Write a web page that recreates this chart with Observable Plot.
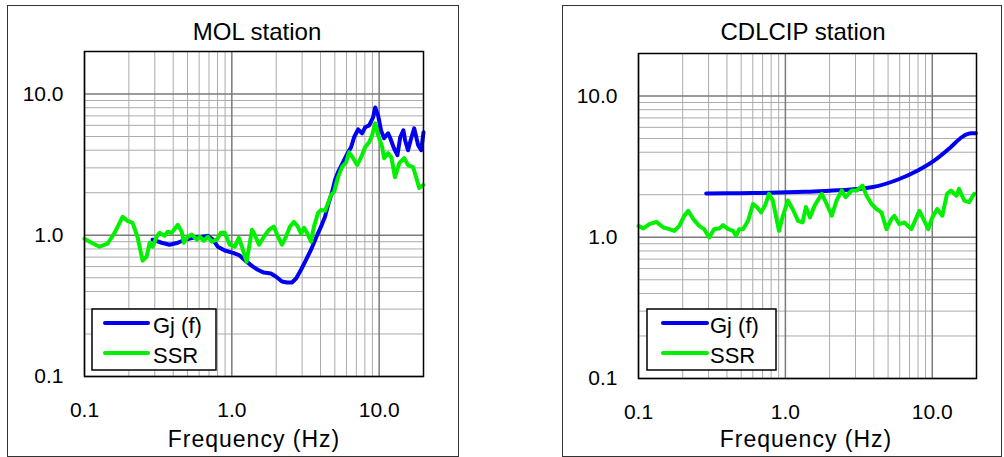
<!DOCTYPE html>
<html>
<head>
<meta charset="utf-8">
<script src="https://cdn.jsdelivr.net/npm/d3@7"></script>
<script src="https://cdn.jsdelivr.net/npm/@observablehq/plot@0.6"></script>
<style>
  body { margin: 0; background: white; }
  #root { position: relative; width: 1004px; height: 457px; background: white; overflow: hidden; font-family: "Liberation Sans", Arial, sans-serif; }
  .panel { position: absolute; box-sizing: border-box; border: 1.5px solid #333; }
  .plotbox { position: absolute; }
  #overlay { position: absolute; left: 0; top: 0; pointer-events: none; }
</style>
</head>
<body>
<div id="root">
  <div class="panel" style="left:7px;top:5px;width:452px;height:452px;"></div>
  <div class="panel" style="left:562px;top:5px;width:440px;height:452px;"></div>
  <div class="plotbox" id="left" style="left:0px;top:0px;"></div>
  <div class="plotbox" id="right" style="left:554px;top:0px;"></div>
</div>
<script>
// ---- axis / grid values ----
const majorTicks = [0.1, 1, 10];
const minorGrid = [0.2, 0.3, 0.4, 0.5, 0.6, 0.7, 0.8, 0.9, 2, 3, 4, 5, 6, 7, 8, 9, 20];
const majorGrid = [0.1, 1, 10];
const seriesNames = ["Gj (f)", "SSR"];
const titles = ["MOL station", "CDLCIP station"];
const xLabel = "Frequency (Hz)";

// ---- MOL station ----
const molGjFreq = [0.29,0.334,0.378,0.43,0.479,0.543,0.625,0.687,0.743,0.803,0.896,1.02,1.13,1.26,1.39,1.50,1.65,1.84,1.99,2.19,2.37,2.56,2.73,2.95,3.19,3.45,3.73,4.03,4.29,4.50,4.79,5.02,5.26,5.69,6.15,6.45,6.76,7.20,7.66,8.03,8.55,9.10,9.40,9.84,10.3,10.8,11.5,11.9,12.6,13.3,13.9,14.6,15.0,15.7,16.5,17.3,18.4,19.3,20];
const molGj = [0.93,0.885,0.857,0.885,0.93,0.96,0.976,0.99,0.93,0.83,0.78,0.75,0.72,0.65,0.60,0.57,0.544,0.536,0.51,0.47,0.463,0.463,0.494,0.57,0.67,0.79,0.96,1.15,1.35,1.64,2.02,2.46,2.80,3.29,3.87,4.20,4.94,5.62,5.27,5.81,6.00,6.83,8.03,7.06,5.53,4.86,5.27,4.86,4.13,3.69,4.94,5.53,4.71,4.00,4.86,5.71,4.34,4.00,5.36];
const molSsrFreq = [0.1,0.1116,0.1265,0.1434,0.160,0.1814,0.196,0.212,0.229,0.248,0.264,0.277,0.290,0.309,0.324,0.350,0.367,0.391,0.430,0.457,0.472,0.502,0.535,0.578,0.606,0.645,0.687,0.731,0.791,0.842,0.896,0.969,1.048,1.116,1.17,1.26,1.37,1.41,1.53,1.65,1.79,1.93,2.06,2.19,2.33,2.48,2.64,2.81,2.95,3.09,3.24,3.45,3.61,3.85,4.03,4.29,4.50,4.71,4.94,5.26,5.60,5.97,6.25,6.66,7.09,7.55,8.03,8.55,8.96,9.40,9.84,10.5,10.8,11.5,12.1,12.8,13.7,14.8,15.7,17.0,17.9,18.7,19.9];
const molSsr = [0.945,0.885,0.83,0.871,1.04,1.35,1.265,1.225,0.976,0.661,0.706,0.885,0.83,0.976,1.04,0.99,1.06,1.04,1.186,1.06,0.885,0.976,1.01,0.93,0.976,0.915,0.976,0.90,0.93,1.04,1.04,0.857,0.83,0.96,0.83,0.65,1.093,1.04,0.857,0.976,1.093,1.15,0.976,0.857,0.976,1.15,1.245,1.15,1.024,1.13,1.04,0.90,1.15,1.44,1.51,1.49,1.69,1.93,2.02,2.58,3.04,3.29,3.87,3.51,3.14,3.57,4.20,4.55,5.10,6.20,5.10,4.20,3.51,3.81,3.57,2.58,3.24,3.51,3.14,3.04,2.54,2.16,2.27];

// ---- CDLCIP station ----
const cdlGjFreq = [0.289,0.491,0.785,1.356,2.27,3.86,5.79,7.91,10.3,13.4,16.0,18.4,19.8];
const cdlGj = [2.045,2.05,2.063,2.097,2.148,2.257,2.554,2.96,3.49,4.36,5.14,5.44,5.44];
const cdlSsrFreq = [0.1,0.108,0.1187,0.1324,0.1477,0.1623,0.1754,0.1897,0.205,0.218,0.236,0.259,0.280,0.303,0.327,0.354,0.377,0.408,0.441,0.462,0.484,0.515,0.557,0.602,0.641,0.682,0.726,0.773,0.822,0.904,0.962,1.04,1.12,1.22,1.31,1.38,1.47,1.58,1.77,1.91,2.07,2.23,2.42,2.57,2.82,3.05,3.35,3.57,3.86,4.17,4.51,4.88,5.27,5.52,5.97,6.46,7.21,8.17,8.83,9.39,10.0,10.8,11.7,12.6,13.4,14.6,15.2,16.5,17.8,19.3];
const cdlSsr = [1.204,1.154,1.238,1.286,1.173,1.141,1.109,1.204,1.42,1.54,1.345,1.204,1.141,0.995,1.141,1.154,1.218,1.141,1.109,1.02,1.141,1.141,1.307,1.72,1.63,1.50,1.67,2.03,1.82,1.109,1.42,1.82,1.585,1.307,1.273,1.64,1.38,1.67,2.03,1.72,1.42,1.82,2.14,1.92,2.14,2.14,2.32,1.97,1.72,1.585,1.50,1.141,1.345,1.42,1.238,1.273,1.141,1.54,1.307,1.141,1.38,1.585,1.42,2.03,2.14,1.97,2.20,1.82,1.77,2.03];

const colors = ["#0000f0", "#00f000"];
const zip = (fs, vs) => fs.map((f, i) => ({f, v: vs[i]}));

function panel({width, height, ml, mr, mt, mb, gj, ssr, gjCurve}) {
  return Plot.plot({
    width, height,
    marginLeft: ml, marginRight: mr, marginTop: mt, marginBottom: mb,
    style: {background: "transparent", fontFamily: "'Liberation Sans', Arial, sans-serif", fontSize: "21px", color: "black", overflow: "visible"},
    x: {type: "log", domain: [0.1, 20], ticks: majorTicks, tickFormat: d => d.toFixed(1), tickSize: 0, tickPadding: 26, label: null},
    y: {type: "log", domain: [0.1, 20], ticks: majorTicks, tickFormat: d => d.toFixed(1), tickSize: 0, tickPadding: 21, label: null},
    marks: [
      Plot.ruleX(minorGrid, {stroke: "#ababab", strokeWidth: 1}),
      Plot.ruleY(minorGrid, {stroke: "#ababab", strokeWidth: 1}),
      Plot.ruleX(majorGrid, {stroke: "#7a7a7a", strokeWidth: 1.5}),
      Plot.ruleY(majorGrid, {stroke: "#7a7a7a", strokeWidth: 1.5}),
      Plot.line(gj, {x: "f", y: "v", stroke: colors[0], strokeWidth: 4, strokeLinejoin: "round", strokeLinecap: "round", curve: gjCurve}),
      Plot.line(ssr, {x: "f", y: "v", stroke: colors[1], strokeWidth: 4, strokeLinejoin: "round", strokeLinecap: "round"}),
      Plot.frame({stroke: "black", strokeWidth: 1.5})
    ]
  });
}

document.getElementById("left").appendChild(panel({
  width: 460, height: 457, ml: 84, mr: 37, mt: 51, mb: 81,
  gj: zip(molGjFreq, molGj), ssr: zip(molSsrFreq, molSsr), gjCurve: "linear"
}));
document.getElementById("right").appendChild(panel({
  width: 446, height: 457, ml: 84, mr: 24, mt: 53, mb: 79,
  gj: zip(cdlGjFreq, cdlGj), ssr: zip(cdlSsrFreq, cdlSsr), gjCurve: "monotone-x"
}));

// ---- overlay: titles, axis labels, legends ----
const svg = d3.select("#root").append("svg").attr("id", "overlay").attr("width", 1004).attr("height", 457)
  .style("font-family", "'Liberation Sans', Arial, sans-serif");
const panels = [
  {titleX: 257, labelX: 254, box: [92, 309, 124, 61], lineX: [105, 148], textX: 153},
  {titleX: 803, labelX: 806, box: [647, 309, 129, 61], lineX: [663, 707], textX: 710}
];
panels.forEach((p, i) => {
  svg.append("text").attr("x", p.titleX).attr("y", 40).attr("text-anchor", "middle").attr("font-size", 24).attr("fill", "black").text(titles[i]);
  svg.append("text").attr("x", p.labelX).attr("y", 447).attr("text-anchor", "middle").attr("font-size", 23).attr("letter-spacing", 1).attr("fill", "black").text(xLabel);
  const [bx, by, bw, bh] = p.box;
  svg.append("rect").attr("x", bx).attr("y", by).attr("width", bw).attr("height", bh).attr("fill", "white").attr("stroke", "black").attr("stroke-width", 1.5);
  seriesNames.forEach((name, k) => {
    const yy = 323 + k * 30;
    svg.append("line").attr("x1", p.lineX[0]).attr("x2", p.lineX[1]).attr("y1", yy).attr("y2", yy).attr("stroke", colors[k]).attr("stroke-width", 4).attr("stroke-linecap", "round");
    svg.append("text").attr("x", p.textX).attr("y", yy + 10).attr("font-size", 22).attr("fill", "black").text(name);
  });
});
</script>
</body>
</html>
